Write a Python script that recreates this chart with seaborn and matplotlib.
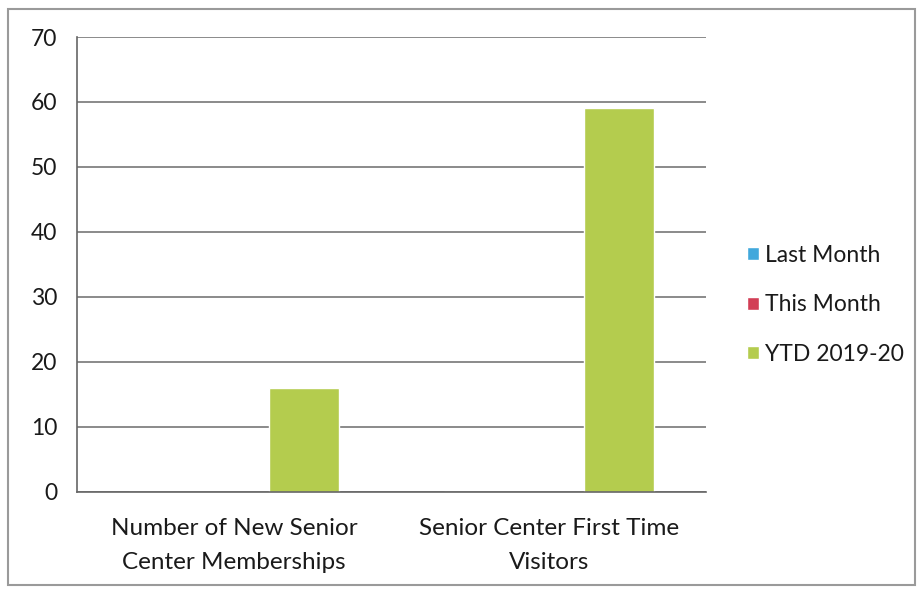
import pandas as pd
import matplotlib.pyplot as plt
import seaborn as sns
from matplotlib.patches import Rectangle
from matplotlib.ticker import FixedLocator

# Data
categories = ["Number of New Senior\nCenter Memberships", "Senior Center First Time\nVisitors"]
series = ["Last Month", "This Month", "YTD 2019-20"]
last_month = [0, 0]
this_month = [0, 0]
ytd = [16, 59]
colors = ["#41A8DC", "#D23E55", "#B4CC4E"]

rows = []
for name, vals in zip(series, [last_month, this_month, ytd]):
    for cat, v in zip(categories, vals):
        rows.append({"category": cat, "series": name, "value": v})
df = pd.DataFrame(rows)

sns.set_style("white")
plt.rcParams['font.family'] = ['Lato', 'DejaVu Sans']

fig = plt.figure(figsize=(9.22, 5.92), dpi=100)
ax = fig.add_axes([0.0835, 0.169, 0.6825, 0.7685])

sns.barplot(data=df, x="category", y="value", hue="series", palette=colors,
            width=0.667, gap=0, ax=ax, saturation=1, errorbar=None)

ax.set_ylim(0, 70)
ax.set_xlim(-0.5, 1.5)
ax.set_yticks(range(0, 71, 10))
ax.yaxis.grid(True, color="#8a8a8a", linewidth=1.4)
ax.set_axisbelow(True)
ax.set_xlabel("")
ax.set_ylabel("")

# category labels centred, tick marks between categories
ax.xaxis.set_major_locator(FixedLocator([-0.5, 0.5, 1.5]))
ax.set_xticklabels(["", "", ""])
ax.xaxis.set_minor_locator(FixedLocator([0, 1]))
ax.set_xticklabels(categories, minor=True, linespacing=1.75)
ax.tick_params(axis="x", which="minor", length=0, pad=19, labelsize=17.5, labelcolor="#1a1a1a")
ax.tick_params(axis="x", which="major", length=7, width=1.2, color="#666666", direction="out")
ax.tick_params(axis="y", length=8, width=1.2, color="#666666", direction="out",
               labelsize=16.5, labelcolor="#1a1a1a", pad=6)

for side in ["top", "right"]:
    ax.spines[side].set_visible(False)
for side in ["left", "bottom"]:
    ax.spines[side].set_color("#666666")
    ax.spines[side].set_linewidth(1.2)

handles, labels = ax.get_legend_handles_labels()
ax.legend(handles, labels, loc="center left", bbox_to_anchor=(0.788, 0.485),
          bbox_transform=fig.transFigure, frameon=False, fontsize=16.5,
          handlelength=0.5, handleheight=0.5, handletextpad=0.3,
          labelspacing=1.25, labelcolor="#1a1a1a")

# outer chart border
fig.patches.append(Rectangle((0.009, 0.012), 0.983, 0.972, transform=fig.transFigure,
                             fill=False, edgecolor="#9a9a9a", linewidth=1.5))

plt.savefig("out.png", dpi=100)
